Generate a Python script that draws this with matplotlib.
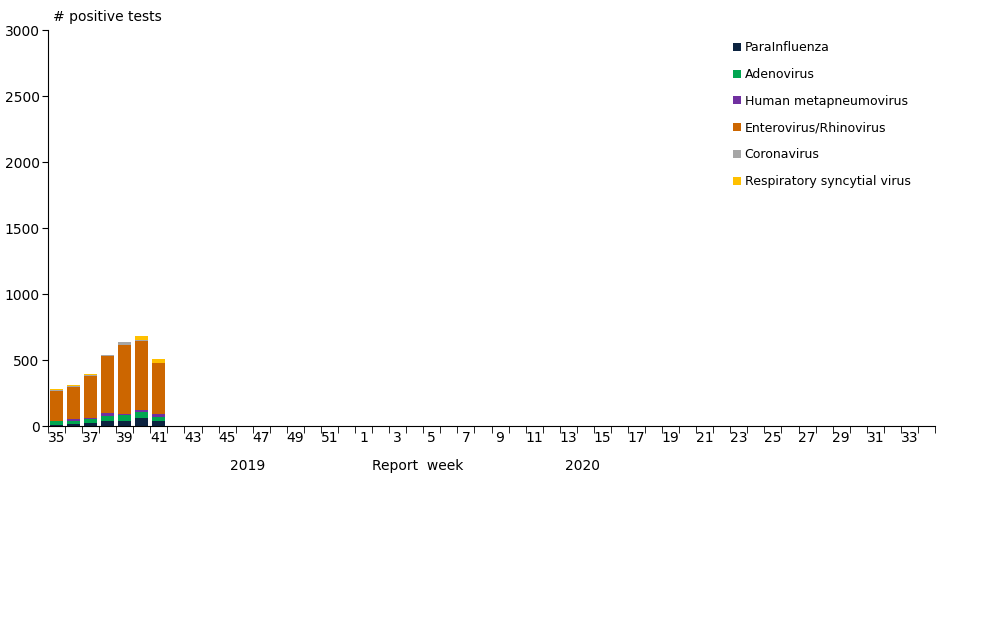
import numpy as np
import matplotlib.pyplot as plt

weeks = list(range(35, 53)) + list(range(1, 35))
series = ["ParaInfluenza", "Adenovirus", "Human metapneumovirus",
          "Enterovirus/Rhinovirus", "Coronavirus", "Respiratory syncytial virus"]
colors = ["#0c2340", "#00a651", "#7030a0", "#cc6600", "#a6a6a6", "#ffc000"]
para = [5, 15, 23, 38, 38, 61, 38]
adeno = [30, 23, 30, 38, 48, 48, 30]
hmpv = [3, 15, 8, 25, 5, 10, 23]
entero = [225, 244, 320, 427, 519, 528, 383]
corona = [12, 8, 8, 8, 23, 5, 2]
rsv = [3, 2, 3, 3, 3, 28, 28]
data = [para, adeno, hmpv, entero, corona, rsv]

fig = plt.figure(figsize=(10.08, 6.3), dpi=100)
ax = fig.add_axes([48/1008, 1-426/630, (935-48)/1008, (426-30)/630])
x = np.arange(len(weeks))
bottom = np.zeros(len(weeks))
for name, vals, c in zip(series, data, colors):
    v = np.zeros(len(weeks))
    v[:len(vals)] = vals
    ax.bar(x, v, 0.75, bottom=bottom, color=c, label=name)
    bottom += v

ax.set_xlim(-0.5, len(weeks) - 0.5)
ax.set_ylim(0, 3000)
ax.set_yticks(range(0, 3001, 500))
ax.set_xticks(x[::2])
ax.set_xticklabels([str(w) for w in weeks[::2]])
ax.set_xticks(np.arange(-0.5, len(weeks), 1), minor=True)
ax.tick_params(axis="x", which="major", length=0, labelsize=10)
ax.tick_params(axis="x", which="minor", length=5)
ax.tick_params(axis="y", labelsize=10, length=4, pad=2)
for s in ["top", "right"]:
    ax.spines[s].set_visible(False)

fig.text(53/1008, 1-17/630, "# positive tests", fontsize=10, va="center")
fig.text(248/1008, 1-466/630, "2019", fontsize=10, ha="center", va="center")
fig.text(418/1008, 1-466/630, "Report  week", fontsize=10, ha="center", va="center")
fig.text(583/1008, 1-466/630, "2020", fontsize=10, ha="center", va="center")

ax.legend(loc="upper left", bbox_to_anchor=(0.76, 1.0), frameon=False,
          fontsize=9, handlelength=0.6, handleheight=0.6, handletextpad=0.3,
          labelspacing=1.1)
fig.savefig("out.png", dpi=100)
